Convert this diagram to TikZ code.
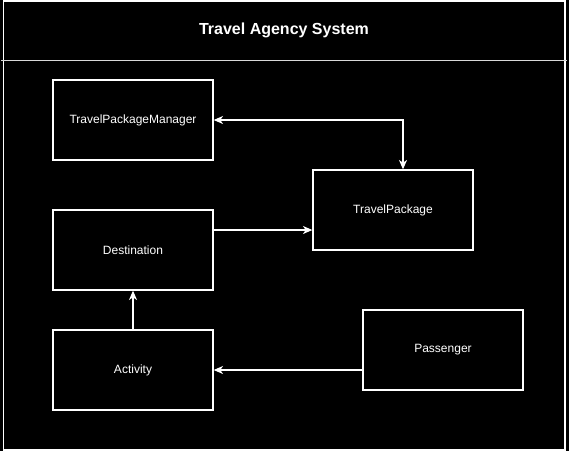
\documentclass[tikz,border=0pt]{standalone}
\usepackage{fontspec}
\setmainfont{Liberation Sans}
\usetikzlibrary{arrows.meta}
\begin{document}
\begin{tikzpicture}[x=0.75pt,y=-0.75pt,
  box/.style={draw=white,line width=1pt,minimum width=160*0.75pt,minimum height=80*0.75pt,inner sep=0pt,text=white,font=\fontsize{9}{11}\selectfont},
  conn/.style={draw=white,line width=1pt,-{Stealth[length=7pt,width=6pt,inset=2pt]}}]
\fill[black] (0,0) rectangle (569,451);
\useasboundingbox (0,0) rectangle (569,451);
\draw[white,line width=1pt] (3.5,1) rectangle (565,450);
\draw[white!85!black,line width=1pt] (1,60.5) -- (567,60.5);
\node[text=white,font=\bfseries\fontsize{12}{14}\selectfont] (title) at (284,30) {Travel Agency System};
\node[box] (tpm) at (133,120) {TravelPackageManager};
\node[box] (tp) at (393,210) {TravelPackage};
\node[box] (dest) at (133,250) {Destination};
\node[box] (act) at (133,370) {Activity};
\node[box] (pass) at (443,350) {Passenger};
\coordinate (c1) at (403,120);
\draw[conn,{Stealth[length=7pt,width=6pt,inset=2pt]}-{Stealth[length=7pt,width=6pt,inset=2pt]}] (tpm.east) -- (c1) -- (tp.north -| c1);
\draw[conn] (dest.east |- 0,230) -- (tp.west |- 0,230);
\draw[conn] (act.north) -- (dest.south);
\draw[conn] (pass.west |- act.east) -- (act.east);
\end{tikzpicture}
\end{document}
